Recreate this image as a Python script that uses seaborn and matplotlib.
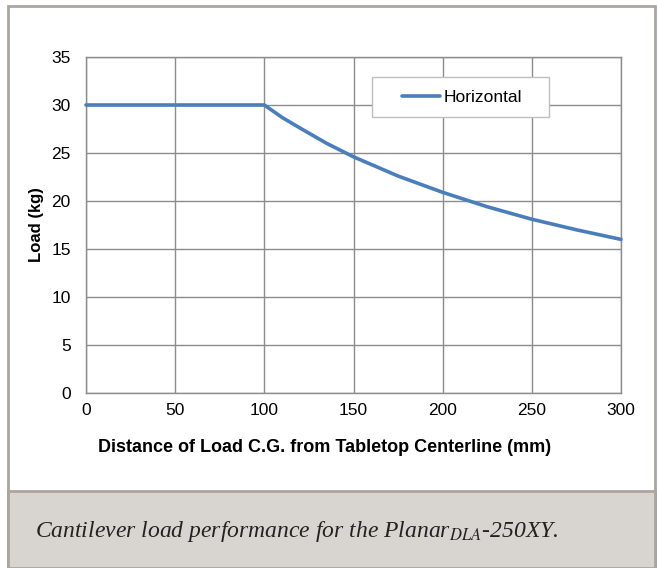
import pandas as pd
import seaborn as sns
from matplotlib import pyplot as plt
from matplotlib.patches import Rectangle

distance = [0, 50, 100, 110, 120, 135, 150, 175, 200, 225, 250, 275, 300]
load = [30, 30, 30, 28.7, 27.6, 26.0, 24.6, 22.6, 20.9, 19.4, 18.1, 17.0, 16.0]
xticks = [0, 50, 100, 150, 200, 250, 300]
yticks = [0, 5, 10, 15, 20, 25, 30, 35]

sns.set_style("white")
plt.rcParams['font.family'] = ['Liberation Sans', 'DejaVu Sans']
plt.rcParams['mathtext.fontset'] = 'stix'
plt.rcParams['text.color'] = 'black'
plt.rcParams['xtick.color'] = 'black'
plt.rcParams['ytick.color'] = 'black'
plt.rcParams['axes.labelcolor'] = 'black'

fig = plt.figure(figsize=(6.58, 5.68), dpi=100)

# outer frame and caption box
fig.patches.append(Rectangle((8/658, 0), 647/658, 1 - 6/568, transform=fig.transFigure,
                             facecolor="white", edgecolor="#aaa59f", lw=2, zorder=-2))
fig.patches.append(Rectangle((8/658, 0), 647/658, 1 - 491/568, transform=fig.transFigure,
                             facecolor="#d8d5d0", edgecolor="#aaa59f", lw=2, zorder=-1))

ax = fig.add_axes([86/658, 1 - 393/568, 535/658, 336/568])
data = pd.DataFrame({"x": distance, "y": load})
sns.lineplot(data=data, x="x", y="y", ax=ax, color="#4a7ebb", lw=2.6,
             label="Horizontal", clip_on=False, zorder=3)

ax.set_xlim(0, 300)
ax.set_ylim(0, 35)
ax.set_xticks(xticks)
ax.set_yticks(yticks)
ax.grid(True, color="#8c8c8c", lw=1)
for s in ax.spines.values():
    s.set_color("#8c8c8c")
    s.set_linewidth(1)
ax.tick_params(axis="x", length=0, labelsize=12.5, pad=7)
ax.tick_params(axis="y", length=0, labelsize=12.5, pad=11)
ax.set_xlabel("Distance of Load C.G. from Tabletop Centerline (mm)", fontsize=13,
              fontweight="bold")
ax.set_ylabel("Load (kg)", fontsize=12, fontweight="bold")
ax.xaxis.set_label_coords((325 - 86) / 535, (393 - 439) / 336)
ax.yaxis.set_label_coords((44 - 86) / 535, 0.5)

# legend box
ax.add_patch(Rectangle((286/535, 1 - 60/336), 177/535, 40/336, transform=ax.transAxes,
                       facecolor="white", edgecolor="#bfbfbf", lw=1, zorder=4))
leg = ax.legend(loc="center left", bbox_to_anchor=(316/535, 1 - 40/336), fontsize=12.5,
                frameon=False, handlelength=2.2, handletextpad=0.2,
                borderpad=0, borderaxespad=0)
leg.set_zorder(5)

fig.text(35/658, 1 - 532/568,
         r"Cantilever load performance for the Planar$_{DLA}$-250XY.",
         family="Liberation Serif", style="italic", fontsize=17, color="#222222",
         va="center", ha="left")

fig.savefig("out.png", dpi=100)
